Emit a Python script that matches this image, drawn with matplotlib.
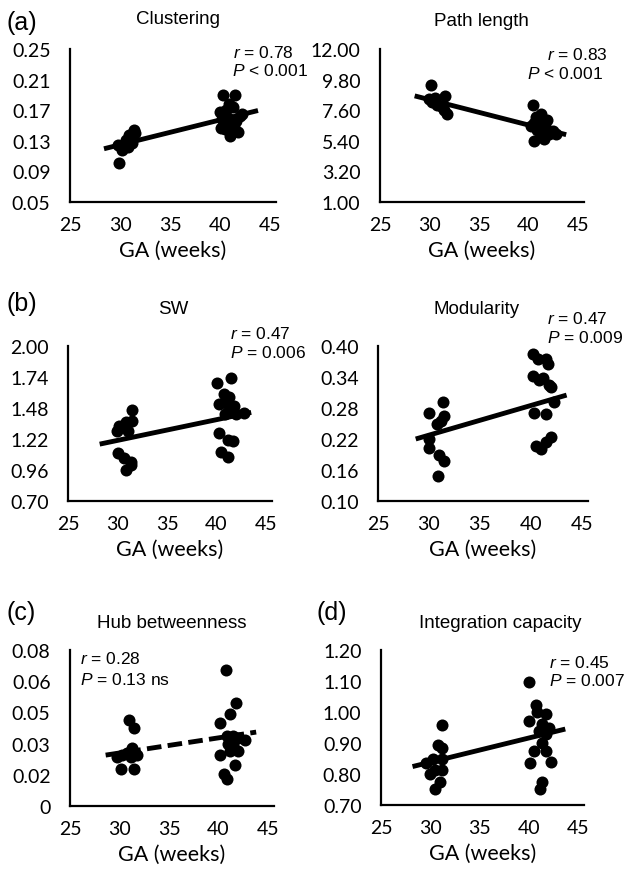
import numpy as np
import matplotlib
matplotlib.use("Agg")
import matplotlib.pyplot as plt

# data: gestational age (weeks) and metric value
clust_ga = [29.9, 29.8, 30.2, 30.6, 30.9, 31.4, 31.2, 30.8, 31.5,
            40.3, 41.5, 40.0, 40.2, 40.1, 40.5, 41.0, 41.8, 42.0, 41.3, 40.8, 41.6, 40.6, 41.2, 42.2, 40.9, 41.4]
clust_val = [0.101, 0.124, 0.118, 0.131, 0.138, 0.144, 0.127, 0.122, 0.140,
             0.190, 0.190, 0.167, 0.158, 0.147, 0.145, 0.136, 0.142, 0.162, 0.174, 0.160, 0.156, 0.170, 0.150, 0.165, 0.178, 0.148]

path_ga = [30.1, 29.9, 30.3, 30.8, 31.6, 31.2, 31.5, 31.8, 30.6,
           40.4, 40.6, 41.3, 41.0, 41.7, 42.1, 40.6, 41.6, 40.9, 41.9, 41.2, 40.2, 42.5, 41.4, 40.8, 42.8]
path_val = [9.4, 8.4, 8.2, 8.0, 8.6, 7.9, 7.6, 7.3, 8.5,
            7.95, 6.7, 7.3, 6.9, 6.5, 5.9, 5.4, 5.5, 6.2, 6.9, 6.3, 6.5, 6.1, 5.8, 7.1, 5.9]

sw_ga = [29.9, 30.2, 30.9, 31.5, 31.5, 31.1, 30.0, 30.7, 31.4, 30.9, 31.4,
         40.0, 41.5, 40.2, 41.3, 41.5, 42.0, 40.9, 42.8, 40.2, 41.2, 41.7, 40.5, 41.2, 40.8, 41.0, 41.8]
sw_val = [1.29, 1.33, 1.36, 1.46, 1.37, 1.29, 1.10, 1.06, 1.03, 0.96, 1.00,
          1.69, 1.73, 1.51, 1.57, 1.49, 1.43, 1.43, 1.44, 1.27, 1.21, 1.20, 1.11, 1.07, 1.60, 1.52, 1.50]

mod_ga = [30.0, 31.4, 31.5, 30.8, 30.0, 30.0, 31.0, 31.5, 30.9, 31.2,
          40.2, 40.7, 41.5, 41.7, 40.2, 41.2, 41.8, 42.0, 40.3, 41.5, 42.3, 40.5, 41.0, 42.0, 41.5, 40.8]
mod_val = [0.270, 0.292, 0.265, 0.249, 0.220, 0.203, 0.190, 0.177, 0.149, 0.255,
           0.384, 0.374, 0.374, 0.365, 0.341, 0.338, 0.325, 0.320, 0.270, 0.269, 0.292, 0.206, 0.200, 0.223, 0.215, 0.335]

hub_ga = [31.0, 31.5, 31.3, 30.3, 30.2, 31.5, 31.2, 31.8, 29.7, 30.8,
          40.8, 41.8, 41.2, 40.1, 40.9, 41.5, 42.0, 42.7, 41.5, 41.2, 42.0, 40.1, 41.7, 40.6, 40.9, 41.0]
hub_val = [0.0443, 0.040, 0.0296, 0.0261, 0.0191, 0.0191, 0.025, 0.026, 0.025, 0.027,
           0.0699, 0.053, 0.047, 0.0426, 0.0357, 0.036, 0.0348, 0.034, 0.0313, 0.028, 0.028, 0.026, 0.021, 0.0165, 0.0139, 0.032]

integ_ga = [31.2, 30.8, 31.2, 29.6, 30.0, 30.5, 31.2, 31.0, 30.5, 30.3, 31.2,
            40.0, 40.7, 41.7, 40.0, 41.3, 42.0, 41.0, 41.7, 41.3, 40.5, 41.7, 40.1, 42.3, 41.3, 41.1, 40.8]
integ_val = [0.959, 0.895, 0.884, 0.835, 0.800, 0.813, 0.813, 0.775, 0.753, 0.850, 0.850,
             1.098, 1.021, 0.994, 0.972, 0.960, 0.950, 0.940, 0.930, 0.900, 0.873, 0.873, 0.835, 0.840, 0.775, 0.753, 1.000]

# fitted trend lines (start / end) as drawn in the figure
clust_fit = ([28.4, 43.8], [0.1196, 0.1696])
path_fit = ([28.5, 43.8], [8.63, 5.84])
sw_fit = ([28.2, 43.5], [1.177, 1.443])
mod_fit = ([28.7, 43.5], [0.220, 0.305])
hub_fit = ([28.6, 43.8], [0.0261, 0.0379])
integ_fit = ([28.2, 43.7], [0.824, 0.945])

x_ticks = [25, 30, 35, 40, 45]
clust_ticks = [0.05, 0.09, 0.13, 0.17, 0.21, 0.25]
path_ticks = [1.0, 3.2, 5.4, 7.6, 9.8, 12.0]
sw_ticks = [0.70, 0.96, 1.22, 1.48, 1.74, 2.00]
mod_ticks = [0.10, 0.16, 0.22, 0.28, 0.34, 0.40]
hub_ticks = [0, 0.016, 0.032, 0.048, 0.064, 0.08]
hub_labels = ["0", "0.02", "0.03", "0.05", "0.06", "0.08"]
integ_ticks = [0.70, 0.80, 0.90, 1.00, 1.10, 1.20]

plt.rcParams["mathtext.fontset"] = "custom"
plt.rcParams["mathtext.it"] = "Liberation Sans:italic"
plt.rcParams["mathtext.rm"] = "Liberation Sans"

W, H = 628, 878
fig = plt.figure(figsize=(W / 100, H / 100), dpi=100)

TICK_FONT = "Lato"
TXT_FONT = "Liberation Sans"


def px_axes(left, top, width, height):
    return fig.add_axes([left / W, 1 - (top + height) / H, width / W, height / H])


def ftext(x, y, s, **kw):
    fig.text(x / W, 1 - y / H, s, **kw)


def panel(rect, ga, val, fit, yticks, ylabels, title, title_xy, dashed=False):
    ax = px_axes(*rect)
    ax.scatter(ga, val, s=75, color="black", zorder=3, linewidths=0)
    line, = ax.plot(fit[0], fit[1], color="black", lw=3.5, zorder=4,
                    solid_capstyle="butt")
    if dashed:
        line.set_dashes((3.0, 1.3))
    ax.set_xlim(25, 45.6)
    ax.set_ylim(yticks[0], yticks[-1])
    ax.set_xticks(x_ticks)
    ax.set_yticks(yticks)
    ax.set_yticklabels(ylabels)
    for sp in ["top", "right"]:
        ax.spines[sp].set_visible(False)
    for sp in ["left", "bottom"]:
        ax.spines[sp].set_linewidth(1.6)
    ax.tick_params(length=0, labelsize=14, pad=10)
    ax.tick_params(axis="y", pad=14)
    for lab in ax.get_xticklabels() + ax.get_yticklabels():
        lab.set_fontfamily(TICK_FONT)
    ax.set_xlabel("GA (weeks)", fontsize=15.5, fontfamily=TICK_FONT, labelpad=5)
    ftext(title_xy[0], title_xy[1], title, fontsize=13.5, fontfamily=TXT_FONT,
          ha="center", va="center")
    return ax


panel((70, 50, 206, 153), clust_ga, clust_val, clust_fit, clust_ticks,
      ["%.2f" % t for t in clust_ticks], "Clustering", (178, 20))
panel((380, 50, 204, 153), path_ga, path_val, path_fit, path_ticks,
      ["%.2f" % t for t in path_ticks], "Path length", (481, 22))
panel((68, 347, 204, 155), sw_ga, sw_val, sw_fit, sw_ticks,
      ["%.2f" % t for t in sw_ticks], "SW", (173, 310))
panel((378, 347, 210, 155), mod_ga, mod_val, mod_fit, mod_ticks,
      ["%.2f" % t for t in mod_ticks], "Modularity", (477, 310))
panel((70, 651, 204, 156), hub_ga, hub_val, hub_fit, hub_ticks,
      hub_labels, "Hub betweenness", (172, 623), dashed=True)
panel((381, 651, 203, 155), integ_ga, integ_val, integ_fit, integ_ticks,
      ["%.2f" % t for t in integ_ticks], "Integration capacity", (500, 623))

# panel letters
for lab, x, y in [("(a)", 6, 23), ("(b)", 6, 304), ("(c)", 6, 613), ("(d)", 316, 613)]:
    ftext(x, y, lab, fontsize=18, fontfamily=TXT_FONT, va="center")

# statistics annotations: r, P, r-line position, P-line position
stats = [
    ("0.78", "< 0.001", 233, 53, 232, 71),
    ("0.83", "< 0.001", 547, 55, 527, 74),
    ("0.47", "= 0.006", 230, 334, 230, 353),
    ("0.47", "= 0.009", 547, 319, 547, 338),
    ("0.28", "= 0.13 ns", 80, 659, 80, 680),
    ("0.45", "= 0.007", 549, 663, 549, 681),
]
for r, p, rx, ry, px, py in stats:
    ftext(rx, ry, r"$r$" + " = " + r, fontsize=12.5, fontfamily=TXT_FONT, va="center")
    ftext(px, py, r"$P$" + " " + p, fontsize=12.5, fontfamily=TXT_FONT, va="center")

fig.savefig("out.png", dpi=100)
